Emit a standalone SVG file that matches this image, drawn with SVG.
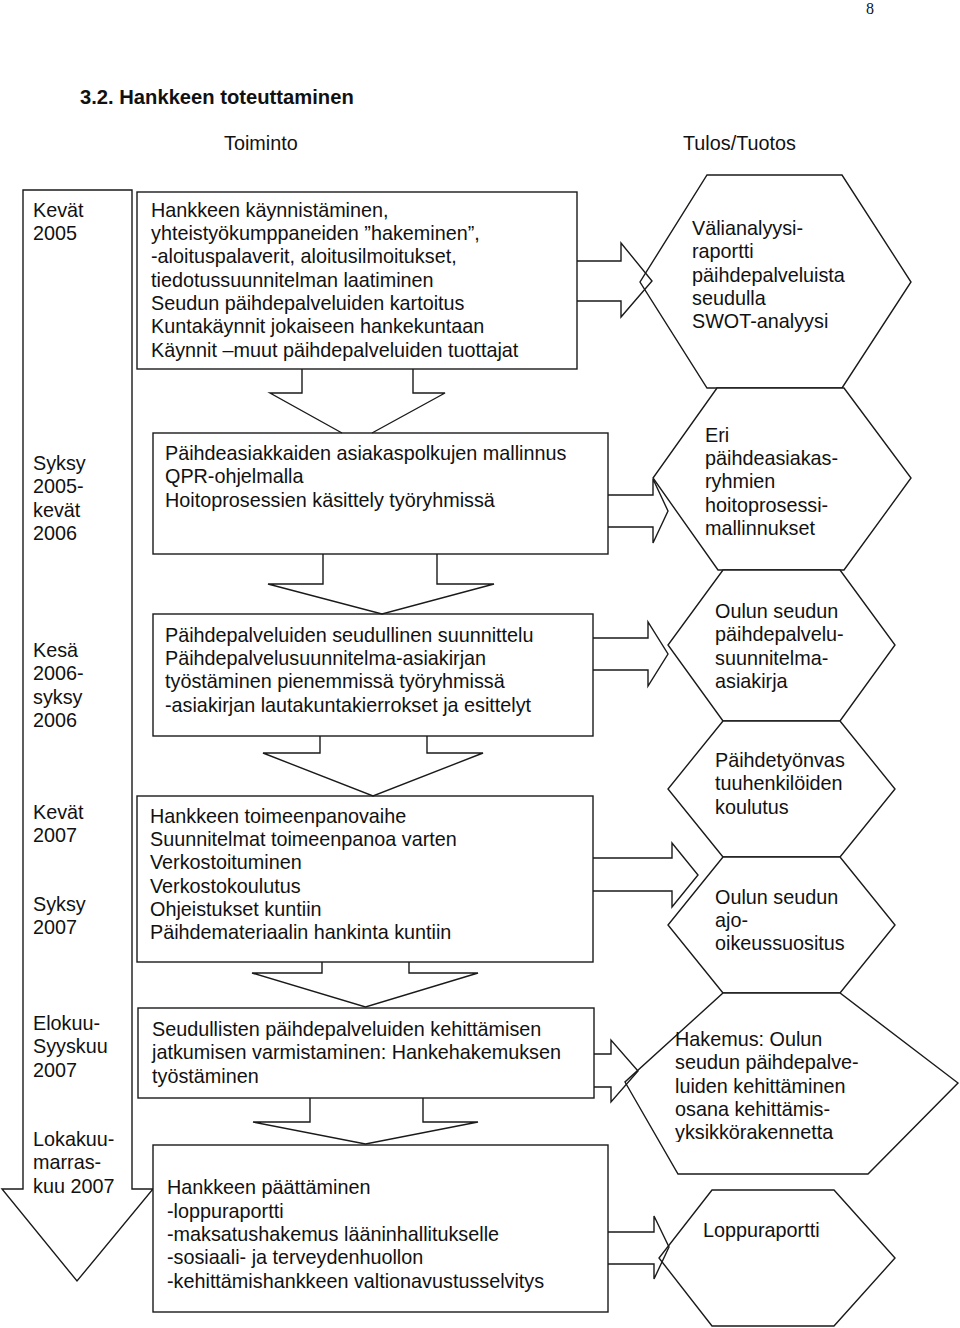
<svg xmlns="http://www.w3.org/2000/svg" width="960" height="1328" viewBox="0 0 960 1328">
<defs>
<style>
text{font-family:"Liberation Sans",Arial,sans-serif;font-size:19.8px;fill:#111}
.pg{font-family:"Liberation Serif","Times New Roman",serif;font-size:16px}
.title{font-weight:bold;font-size:20.2px}
.box{fill:#fff;stroke:#1a1a1a;stroke-width:1.4}
.con{fill:none;stroke:#1a1a1a;stroke-width:1.4;stroke-linejoin:miter}
</style>
<clipPath id="clipHex6"><rect x="600" y="990" width="360" height="152"/></clipPath>
</defs>
<rect width="960" height="1328" fill="#fff"/>
<text class="pg" x="866" y="14">8</text>
<text class="title" x="80" y="104">3.2. Hankkeen toteuttaminen</text>
<text x="224" y="150">Toiminto</text>
<text x="683" y="150">Tulos/Tuotos</text>

<g id="timeline">
<polygon class="box" points="23,190 132,190 132,1189 153,1189 77,1281 2,1189 23,1189"/>
<text x="33"><tspan x="33" y="216.7">Kevät</tspan><tspan x="33" y="240">2005</tspan></text>
<text x="33"><tspan x="33" y="470">Syksy</tspan><tspan x="33" y="493.3">2005-</tspan><tspan x="33" y="516.6">kevät</tspan><tspan x="33" y="540">2006</tspan></text>
<text x="33"><tspan x="33" y="657">Kesä</tspan><tspan x="33" y="680.3">2006-</tspan><tspan x="33" y="703.6">syksy</tspan><tspan x="33" y="727">2006</tspan></text>
<text x="33"><tspan x="33" y="819">Kevät</tspan><tspan x="33" y="842.3">2007</tspan></text>
<text x="33"><tspan x="33" y="911">Syksy</tspan><tspan x="33" y="934.3">2007</tspan></text>
<text x="33"><tspan x="33" y="1030">Elokuu-</tspan><tspan x="33" y="1053.3">Syyskuu</tspan><tspan x="33" y="1076.6">2007</tspan></text>
<text x="33"><tspan x="33" y="1146">Lokakuu-</tspan><tspan x="33" y="1169.3">marras-</tspan><tspan x="33" y="1192.6">kuu 2007</tspan></text>
</g>

<g id="box1">
<rect class="box" x="137" y="192" width="440" height="177"/>
<text><tspan x="151" y="216.7">Hankkeen käynnistäminen,</tspan><tspan x="151" y="240">yhteistyökumppaneiden ”hakeminen”,</tspan><tspan x="151" y="263.3">-aloituspalaverit, aloitusilmoitukset,</tspan><tspan x="151" y="286.6">tiedotussuunnitelman laatiminen</tspan><tspan x="151" y="310">Seudun päihdepalveluiden kartoitus</tspan><tspan x="151" y="333.3">Kuntakäynnit jokaiseen hankekuntaan</tspan><tspan x="151" y="356.6">Käynnit –muut päihdepalveluiden tuottajat</tspan></text>
</g>
<g id="box2">
<rect class="box" x="153" y="433" width="455" height="121"/>
<text><tspan x="165" y="460">Päihdeasiakkaiden asiakaspolkujen mallinnus</tspan><tspan x="165" y="483.3">QPR-ohjelmalla</tspan><tspan x="165" y="506.6">Hoitoprosessien käsittely työryhmissä</tspan></text>
</g>
<g id="box3">
<rect class="box" x="153" y="614" width="440" height="122"/>
<text><tspan x="165" y="641.7">Päihdepalveluiden seudullinen suunnittelu</tspan><tspan x="165" y="665">Päihdepalvelusuunnitelma-asiakirjan</tspan><tspan x="165" y="688.3">työstäminen pienemmissä työryhmissä</tspan><tspan x="165" y="711.6">-asiakirjan lautakuntakierrokset ja esittelyt</tspan></text>
</g>
<g id="box4">
<rect class="box" x="137" y="796" width="456" height="166"/>
<text><tspan x="150" y="822.7">Hankkeen toimeenpanovaihe</tspan><tspan x="150" y="846">Suunnitelmat toimeenpanoa varten</tspan><tspan x="150" y="869.3">Verkostoituminen</tspan><tspan x="150" y="892.6">Verkostokoulutus</tspan><tspan x="150" y="916">Ohjeistukset kuntiin</tspan><tspan x="150" y="939.3">Päihdemateriaalin hankinta kuntiin</tspan></text>
</g>
<g id="box5">
<rect class="box" x="138" y="1008" width="456" height="90"/>
<text><tspan x="152" y="1036">Seudullisten päihdepalveluiden kehittämisen</tspan><tspan x="152" y="1059.3">jatkumisen varmistaminen: Hankehakemuksen</tspan><tspan x="152" y="1082.6">työstäminen</tspan></text>
</g>
<g id="box6">
<rect class="box" x="153" y="1145" width="455" height="167"/>
<text><tspan x="167" y="1194.3">Hankkeen päättäminen</tspan><tspan x="167" y="1217.6">-loppuraportti</tspan><tspan x="167" y="1241">-maksatushakemus lääninhallitukselle</tspan><tspan x="167" y="1264.3">-sosiaali- ja terveydenhuollon</tspan><tspan x="167" y="1287.6">-kehittämishankkeen valtionavustusselvitys</tspan></text>
</g>

<g id="hex1">
<polygon class="box" points="707,175 842,175 911,282 842,388 707,388 640,282"/>
<text><tspan x="692" y="235">Välianalyysi-</tspan><tspan x="692" y="258.3">raportti</tspan><tspan x="692" y="281.6">päihdepalveluista</tspan><tspan x="692" y="305">seudulla</tspan><tspan x="692" y="328.3">SWOT-analyysi</tspan></text>
</g>
<g id="hex2">
<polygon class="box" points="717,388 844,388 911,478 844,570 718,570 653,478"/>
<text><tspan x="705" y="441.7">Eri</tspan><tspan x="705" y="465">päihdeasiakas-</tspan><tspan x="705" y="488.3">ryhmien</tspan><tspan x="705" y="511.6">hoitoprosessi-</tspan><tspan x="705" y="535">mallinnukset</tspan></text>
</g>
<g id="hex3">
<polygon class="box" points="723,570 840,570 895,645 840,721 723,721 668,645"/>
<text><tspan x="715" y="618">Oulun seudun</tspan><tspan x="715" y="641.3">päihdepalvelu-</tspan><tspan x="715" y="664.6">suunnitelma-</tspan><tspan x="715" y="688">asiakirja</tspan></text>
</g>
<g id="hex4">
<polygon class="box" points="723,721 840,721 895,789 840,857 723,857 668,789"/>
<text><tspan x="715" y="767">Päihdetyönvas</tspan><tspan x="715" y="790.3">tuuhenkilöiden</tspan><tspan x="715" y="813.6">koulutus</tspan></text>
</g>
<g id="hex5">
<polygon class="box" points="723,857 840,857 895,925 840,993 723,993 668,925"/>
<text><tspan x="715" y="903.5">Oulun seudun</tspan><tspan x="715" y="926.8">ajo-</tspan><tspan x="715" y="950">oikeussuositus</tspan></text>
</g>
<g id="hex6">
<polygon class="box" points="723,993 840,993 958,1083 868,1174 678,1174 625,1082"/>
<text clip-path="url(#clipHex6)"><tspan x="675" y="1046">Hakemus: Oulun</tspan><tspan x="675" y="1069.3">seudun päihdepalve-</tspan><tspan x="675" y="1092.6">luiden kehittäminen</tspan><tspan x="675" y="1116">osana kehittämis-</tspan><tspan x="675" y="1139.3">yksikkörakennetta</tspan></text>
</g>
<g id="hex7">
<polygon class="box" points="712,1190 834,1190 895,1258 834,1326 712,1326 659,1258"/>
<text x="703" y="1236.7">Loppuraportti</text>
</g>

<g id="connectors">
<path class="con" d="M302,369 V393 H270 L342,433 M372,433 L445,393 H413 V369"/>
<path class="con" d="M323,554 V584 H268 L382,614 L494,584 H437 V554"/>
<path class="con" d="M320,736 V753 H263 L373,796 L483,753 H427 V736"/>
<path class="con" d="M322,962 V973 H252 L365.5,1007 L478,973 H409 V962"/>
<path class="con" d="M310,1098 V1122 H253 L365.5,1144 L478,1122 H423 V1098"/>
<path class="con" d="M577,261 H621 V243 L652,281 L621,317 V301 H577"/>
<path class="con" d="M608,495 H653 V479 L668,511 L653,543 V527 H608"/>
<path class="con" d="M593,638 H648 V622 L668,654 L648,686 V670 H593"/>
<path class="con" d="M593,858 H672 V843 L698,875 L672,907 V891 H593"/>
<path class="con" d="M594,1054 H611 V1040 L638,1071 L611,1102 V1087 H594"/>
<path class="con" d="M608,1232 H654 V1216 L669,1247 L654,1279 V1264 H608"/>
</g>
</svg>
